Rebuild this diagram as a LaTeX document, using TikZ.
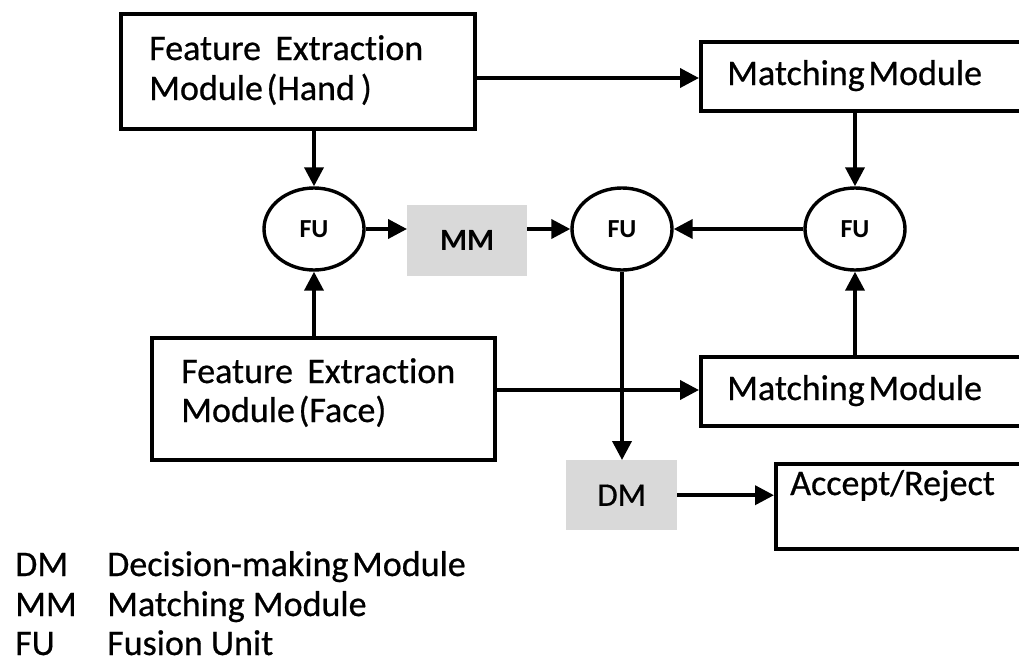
\documentclass[tikz,border=0pt]{standalone}
\usepackage{fontspec}
\setmainfont{Carlito}[Ligatures=NoCommon]
\newfontfamily\labelfont{Carlito}[Ligatures=NoCommon, FakeBold=0.6]
\usetikzlibrary{arrows.meta,shapes.geometric}
\definecolor{panelgray}{HTML}{D9D9D9}
\tikzset{
  modbox/.style={draw=black, line width=3.8pt, fill=white, inner sep=0pt, anchor=north west},
  boxtext/.style={anchor=base west, inner sep=0pt, font=\labelfont\fontsize{36}{42}\selectfont},
  fuse/.style={draw=black, line width=3.4pt, ellipse, minimum width=100pt, minimum height=82pt,
    inner sep=0pt, font=\fontsize{26}{30}\selectfont\bfseries},
  graybox/.style={fill=panelgray, draw=none, inner sep=0pt, anchor=north west},
  flow/.style={line width=3.8pt, -{Triangle[length=19pt,width=19pt]}},
  legend/.style={anchor=base west, font=\labelfont\fontsize{36}{42}\selectfont, inner sep=0pt}
}
\begin{document}
\begin{tikzpicture}[x=1pt,y=-1pt]
\clip (0,0) rectangle (1019,664);
\fill[white] (0,0) rectangle (1019,664);

% feature extraction modules
\node[modbox, minimum width=354pt, minimum height=115pt] (hand) at (119,12) {};
\node[boxtext] (hand1) at (149,60) {Feature\hspace{0.4em}Extraction};
\node[boxtext] (hand2) at (149,100) {Module\hspace{0.1em}(Hand\,)};

\node[modbox, minimum width=343pt, minimum height=122pt] (face) at (150,336) {};
\node[boxtext] (face1) at (181,383) {Feature\hspace{0.4em}Extraction};
\node[boxtext] (face2) at (181,422) {Module\hspace{0.1em}(Face)};

% matching modules (running off the right edge)
\node[modbox, minimum width=360pt, minimum height=69pt] (match1) at (699,40) {};
\node[boxtext] (match1t) at (727,85) {Matching\hspace{0.1em}Module};
\node[modbox, minimum width=360pt, minimum height=69pt] (match2) at (699,355) {};
\node[boxtext] (match2t) at (727,400) {Matching\hspace{0.1em}Module};

% decision output
\node[modbox, minimum width=300pt, minimum height=85pt] (accept) at (774,462) {};
\node[boxtext] (acceptt) at (790,495) {Accept/Reject};

% fusion units
\node[fuse] (fu1) at (314,229) {FU};
\node[fuse] (fu2) at (622,229) {FU};
\node[fuse] (fu3) at (855,229) {FU};

% shaded modules
\node[graybox, minimum width=120pt, minimum height=71pt, font=\fontsize{31}{36}\selectfont\bfseries]
  (mm) at (407,205) {MM};
\node[graybox, minimum width=111pt, minimum height=70pt, font=\labelfont\fontsize{33}{38}\selectfont]
  (dm) at (566,460) {DM};

% connectors
\draw[flow] (hand.east |- 0,78) -- (match1.west |- 0,78);
\draw[flow] (face.east |- 0,390) -- (match2.west |- 0,390);
\draw[flow] (hand.south -| fu1) -- (fu1.north);
\draw[flow] (face.north -| fu1) -- (fu1.south);
\draw[flow] (fu1.east) -- (mm.west |- fu1.east);
\draw[flow] (mm.east |- fu2.west) -- (fu2.west);
\draw[flow] (fu3.west) -- (fu2.east);
\draw[flow] (match1.south -| fu3) -- (fu3.north);
\draw[flow] (match2.north -| fu3) -- (fu3.south);
\draw[flow] (fu2.south) -- (dm.north -| fu2);
\draw[flow] (dm.east) -- (accept.west |- dm.east);

% legend
\node[legend] (kdm) at (15,576) {DM};
\node[legend] (vdm) at (107,576) {Decision-making\hspace{0.1em}Module};
\node[legend] (kmm) at (15,616) {MM};
\node[legend] (vmm) at (107,616) {Matching Module};
\node[legend] (kfu) at (15,655) {FU};
\node[legend] (vfu) at (107,655) {Fusion Unit};
\end{tikzpicture}
\end{document}
